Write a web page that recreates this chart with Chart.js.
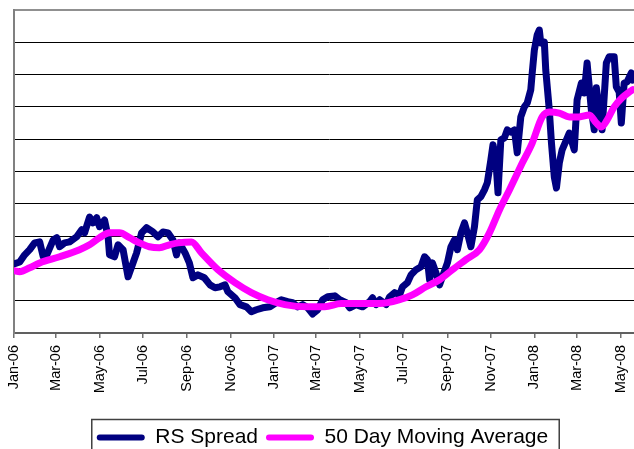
<!DOCTYPE html>
<html><head><meta charset="utf-8">
<script src="https://cdn.jsdelivr.net/npm/chart.js@4.4.1/dist/chart.umd.min.js"></script>
<style>
html,body{margin:0;padding:0;overflow:hidden;background:#fff;width:634px;height:449px}
#wrap{position:absolute;left:0;top:0;width:645px;height:458px}
</style>
</head><body><div id="wrap"><canvas id="c" width="645" height="458"></canvas></div>
<script>
// x values are days counted from 1 Jan 2006
const tickDays = [0,59,120,181,243,304,365,424,485,546,608,669,730,790,851];
const tickLabels = ['Jan-06','Mar-06','May-06','Jul-06','Sep-06','Nov-06','Jan-07','Mar-07','May-07','Jul-07','Sep-07','Nov-07','Jan-08','Mar-08','May-08'];

const rsDays = [0,8,15,22,29,36,41,46,55,60,64,71,78,88,95,99,106,111,116,120,127,132,134,141,146,153,160,165,172,179,186,195,202,209,216,223,228,232,240,246,251,258,267,275,282,289,296,300,310,317,326,333,340,349,359,368,375,384,391,398,405,412,419,426,433,440,450,457,466,471,480,489,499,503,508,513,522,527,534,541,545,552,557,564,571,576,580,583,587,592,597,601,608,613,618,622,627,632,636,641,646,650,655,660,664,669,672,676,679,683,688,692,697,702,706,711,716,720,725,727,730,734,737,739,744,746,751,754,758,761,765,769,775,779,786,790,796,800,804,810,814,817,821,825,831,835,842,845,849,852,856,860,866,868];
const rsValues = [21.4,22.0,24.2,25.8,27.9,28.2,23.6,24.2,28.8,29.5,26.7,27.9,28.2,29.8,32.0,31.0,35.9,34.1,35.7,32.9,35.0,29.8,24.2,23.6,27.3,25.8,17.4,20.5,24.8,31.0,32.6,31.3,29.8,31.3,31.0,28.8,24.2,27.9,24.8,21.7,17.1,18.0,17.1,14.9,14.0,14.3,14.9,12.8,10.9,8.8,8.1,6.6,7.2,7.8,8.1,9.4,10.3,9.7,9.4,8.1,8.8,7.8,5.9,7.2,10.3,11.2,11.5,10.3,9.4,7.8,8.8,8.1,9.7,10.9,8.8,10.3,8.8,11.2,12.5,11.8,14.3,15.6,18.0,19.6,20.5,23.6,22.7,16.5,21.7,18.6,14.9,17.4,21.7,26.7,28.8,25.8,31.0,34.1,31.0,26.7,32.9,41.2,42.2,44.3,46.5,53.6,58.3,53.6,43.4,59.8,60.4,62.9,62.2,62.9,55.8,66.9,70.0,71.2,75.3,80.5,87.6,92.3,93.8,89.8,90.1,81.4,69.0,58.8,48.3,44.9,52.6,56.7,59.8,61.9,56.7,72.2,77.4,74.3,83.6,69.0,62.9,75.9,69.0,62.9,83.6,85.5,85.5,76.2,74.6,65.0,77.4,77.7,80.5,78.3];

const maDays = [0,8,22,36,64,92,106,120,134,148,162,176,190,204,218,230,249,263,286,310,333,356,380,412,436,459,485,513,541,559,578,597,615,634,653,667,681,695,713,727,741,751,765,779,793,807,817,824,832,842,853,863,868];
const maValues = [19.3,19.0,20.2,21.7,23.6,25.8,27.3,29.5,31.0,31.0,29.5,27.9,26.7,26.4,27.3,27.9,28.2,24.8,19.6,15.6,12.5,10.3,8.8,8.1,8.1,9.1,9.1,9.1,10.3,11.8,14.3,16.5,19.6,22.7,25.8,31.0,38.1,44.3,52.6,58.8,66.9,68.4,68.1,66.9,66.9,67.5,65.0,63.8,65.9,70.0,72.8,74.6,75.3];

const seriesNames = ['RS Spread','50 Day Moving Average'];
const FONT = 'Liberation Sans, Arial, sans-serif';

const legendShift = {
  id: 'legendShift',
  afterUpdate(chart) {
    const lg = chart.legend;
    if (lg) {
      lg.left -= 7; lg.right -= 7;
      (lg.legendHitBoxes || []).forEach(h => { h.left -= 7; });
    }
  }
};

const legendFrame = {
  id: 'legendFrame',
  afterDraw(chart) {
    const lg = chart.legend;
    if (!lg || !lg.legendHitBoxes || !lg.legendHitBoxes.length) return;
    const hb = lg.legendHitBoxes;
    const first = hb[0], last = hb[hb.length - 1];
    const yc = first.top + first.height / 2;
    const x1 = first.left - 5, x2 = last.left + last.width + 11;
    const ctx = chart.ctx;
    ctx.save();
    ctx.strokeStyle = '#404040';
    ctx.lineWidth = 1.5;
    ctx.strokeRect(x1, yc - 18, x2 - x1, 36);
    ctx.restore();
  }
};

new Chart(document.getElementById('c'), {
  type: 'line',
  data: {
    datasets: [
      {
        label: seriesNames[0],
        data: rsDays.map((d, i) => ({x: d, y: rsValues[i]})),
        borderColor: '#000080', backgroundColor: '#000080',
        borderWidth: 7, pointRadius: 0, tension: 0,
        borderCapStyle: 'round', borderJoinStyle: 'round', order: 1
      },
      {
        label: seriesNames[1],
        data: maDays.map((d, i) => ({x: d, y: maValues[i]})),
        borderColor: '#FF00FF', backgroundColor: '#FF00FF',
        borderWidth: 7, pointRadius: 0, cubicInterpolationMode: 'monotone',
        borderCapStyle: 'round', borderJoinStyle: 'round', order: 0
      }
    ]
  },
  options: {
    responsive: false, animation: false, devicePixelRatio: 1, events: [],
    layout: {padding: {left: 14, top: 10, right: 0, bottom: 0}},
    scales: {
      x: {
        type: 'linear', min: 0, max: 884,
        afterBuildTicks: s => { s.ticks = tickDays.map(v => ({value: v})); },
        afterFit: s => { s.height = 86; },
        ticks: {
          autoSkip: false, maxRotation: 90, minRotation: 90, padding: 7,
          color: '#000', font: {family: FONT, size: 14.5},
          callback: (v, i) => tickLabels[i]
        },
        grid: {drawOnChartArea: false, drawTicks: true, tickLength: 5, color: '#707070', lineWidth: 1.5},
        border: {color: '#606060', width: 2}
      },
      y: {
        min: 0, max: 100,
        ticks: {display: false, stepSize: 10},
        grid: {
          drawTicks: false,
          color: c => (c.tick && c.tick.value === 100) ? '#909090' : '#000000',
          lineWidth: c => (c.tick && c.tick.value === 100) ? 2 : 1
        },
        border: {color: '#808080', width: 2}
      }
    },
    plugins: {
      tooltip: {enabled: false},
      legend: {
        position: 'bottom',
        labels: {
          boxWidth: 48, boxHeight: 6, padding: 8, color: '#000',
          font: {family: FONT, size: 21},
          useBorderRadius: true, borderRadius: 3,
          sort: (a, b) => a.datasetIndex - b.datasetIndex,
          generateLabels: chart => Chart.defaults.plugins.legend.labels.generateLabels(chart).map(l => ({...l, lineWidth: 0}))
        }
      }
    }
  },
  plugins: [legendShift, legendFrame]
});
</script>
</body></html>
